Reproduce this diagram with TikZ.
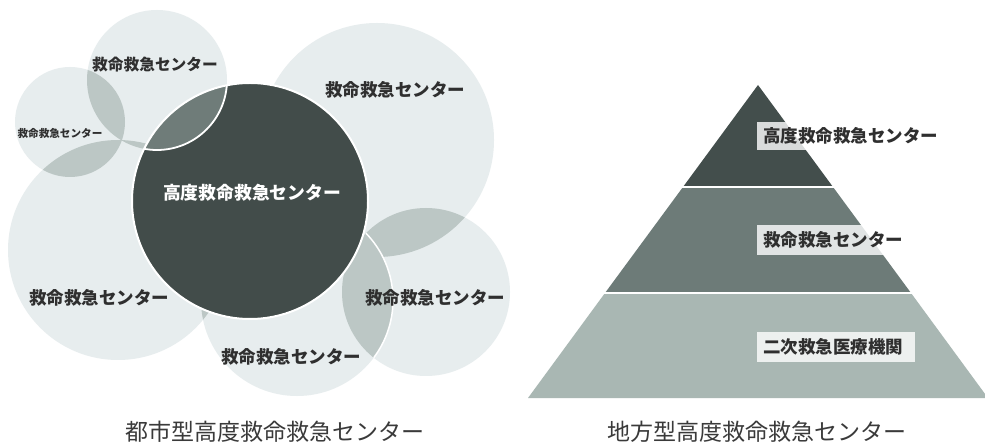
\documentclass[tikz,border=0pt]{standalone}
\usepackage{fontspec}
\newfontfamily\jp{Noto Sans CJK JP}
\definecolor{lightc}{HTML}{E7EDEE}
\definecolor{lensc}{HTML}{BCC7C5}
\definecolor{darkc}{HTML}{424C4A}
\definecolor{midc}{HTML}{6F7C79}
\definecolor{pyrtop}{HTML}{434E4C}
\definecolor{pyrmid}{HTML}{6D7B78}
\definecolor{pyrbot}{HTML}{A9B7B3}
\definecolor{txt}{HTML}{2F2F2F}
\definecolor{ttl}{HTML}{3A3A3A}
\tikzset{
  lbl/.style={font=\jp\bfseries\fontsize{17.5}{18}\selectfont, text=txt, inner sep=0pt},
  lblw/.style={font=\jp\bfseries\fontsize{17.8}{18}\selectfont, text=white, inner sep=0pt},
  plbl/.style={font=\jp\bfseries\fontsize{17.5}{18}\selectfont, text=txt, inner sep=0pt, anchor=west},
  ttlst/.style={font=\jp\fontsize{23}{24}\selectfont, text=ttl, inner sep=0pt},
  lightcirc/.style={fill=lightc},
  lensfill/.style={fill=lensc},
  labbox/.style={fill=white, fill opacity=0.8},
  sep/.style={draw=white, line width=2pt}
}
\begin{document}
\begin{tikzpicture}[x=1pt,y=-1pt]
\useasboundingbox[fill=white] (0,0) rectangle (985,443);
\clip (0,0) rectangle (985,443);
% circle centres
\coordinate (cL) at (70,122);
\coordinate (cT) at (157,80);
\coordinate (cTR) at (377,140);
\coordinate (cBL) at (118,250);
\coordinate (cR) at (426,292);
\coordinate (cB) at (297,300);
\coordinate (cD) at (250,201);
% light circles
\fill[lightcirc] (cL) circle (55);
\fill[lightcirc] (cT) circle (70);
\fill[lightcirc] (cTR) circle (117);
\fill[lightcirc] (cBL) circle (110);
\fill[lightcirc] (cR) circle (84);
\fill[lightcirc] (cB) circle (96);
% lenses
\begin{scope}\clip (cL) circle (55); \fill[lensfill] (cT) circle (70);\end{scope}
\begin{scope}\clip (cL) circle (55); \fill[lensfill] (cBL) circle (110);\end{scope}
\begin{scope}\clip (cT) circle (70); \fill[lensfill] (cBL) circle (110);\end{scope}
\begin{scope}\clip (cTR) circle (117); \fill[lensfill] (cR) circle (84);\end{scope}
\begin{scope}\clip (cR) circle (84); \fill[lensfill] (cB) circle (96);\end{scope}
\begin{scope}\clip (cBL) circle (110); \fill[lensfill] (cB) circle (96);\end{scope}
\begin{scope}\clip (cR) circle (84); \draw[white, line width=1.5pt] (cB) circle (96);\end{scope}
% dark circle
\fill[darkc] (cD) circle (118);
\begin{scope}\clip (cD) circle (118); \fill[midc] (cT) circle (70); \draw[white, line width=1.8pt] (cT) circle (70);\end{scope}
\draw[white, line width=2pt] (cD) circle (118);
% circle labels
\node[lbl, font=\jp\bfseries\fontsize{15.7}{16}\selectfont] (tT) at (155,65) {救命救急センター};
\node[lbl, font=\jp\bfseries\fontsize{10.6}{11}\selectfont] (tL) at (60,133) {救命救急センター};
\node[lblw] (tD) at (252,193) {高度救命救急センター};
\node[lbl] (tTR) at (395,90) {救命救急センター};
\node[lbl] (tBL) at (99,298) {救命救急センター};
\node[lbl] (tR) at (435,298) {救命救急センター};
\node[lbl] (tB) at (291,357) {救命救急センター};
% pyramid
\fill[pyrtop] (758,85) -- (683,187) -- (833,187) -- cycle;
\fill[pyrmid] (683,187) -- (833,187) -- (911,293) -- (605,293) -- cycle;
\fill[pyrbot] (605,293) -- (911,293) -- (988,398) -- (528,398) -- cycle;
\draw[sep] (670,187) -- (850,187);
\draw[sep] (590,293) -- (925,293);
\fill[labbox] (757,122) rectangle (945,150);
\fill[labbox] (757,225) rectangle (910,255);
\fill[labbox] (757,332) rectangle (915,362);
\node[plbl] (p1) at (763,136) {高度救命救急センター};
\node[plbl] (p2) at (763,240) {救命救急センター};
\node[plbl] (p3) at (763,347) {二次救急医療機関};
% titles
\node[ttlst] (t1) at (275,432) {都市型高度救命救急センター};
\node[ttlst] (t2) at (757,432) {地方型高度救命救急センター};
\end{tikzpicture}
\end{document}
